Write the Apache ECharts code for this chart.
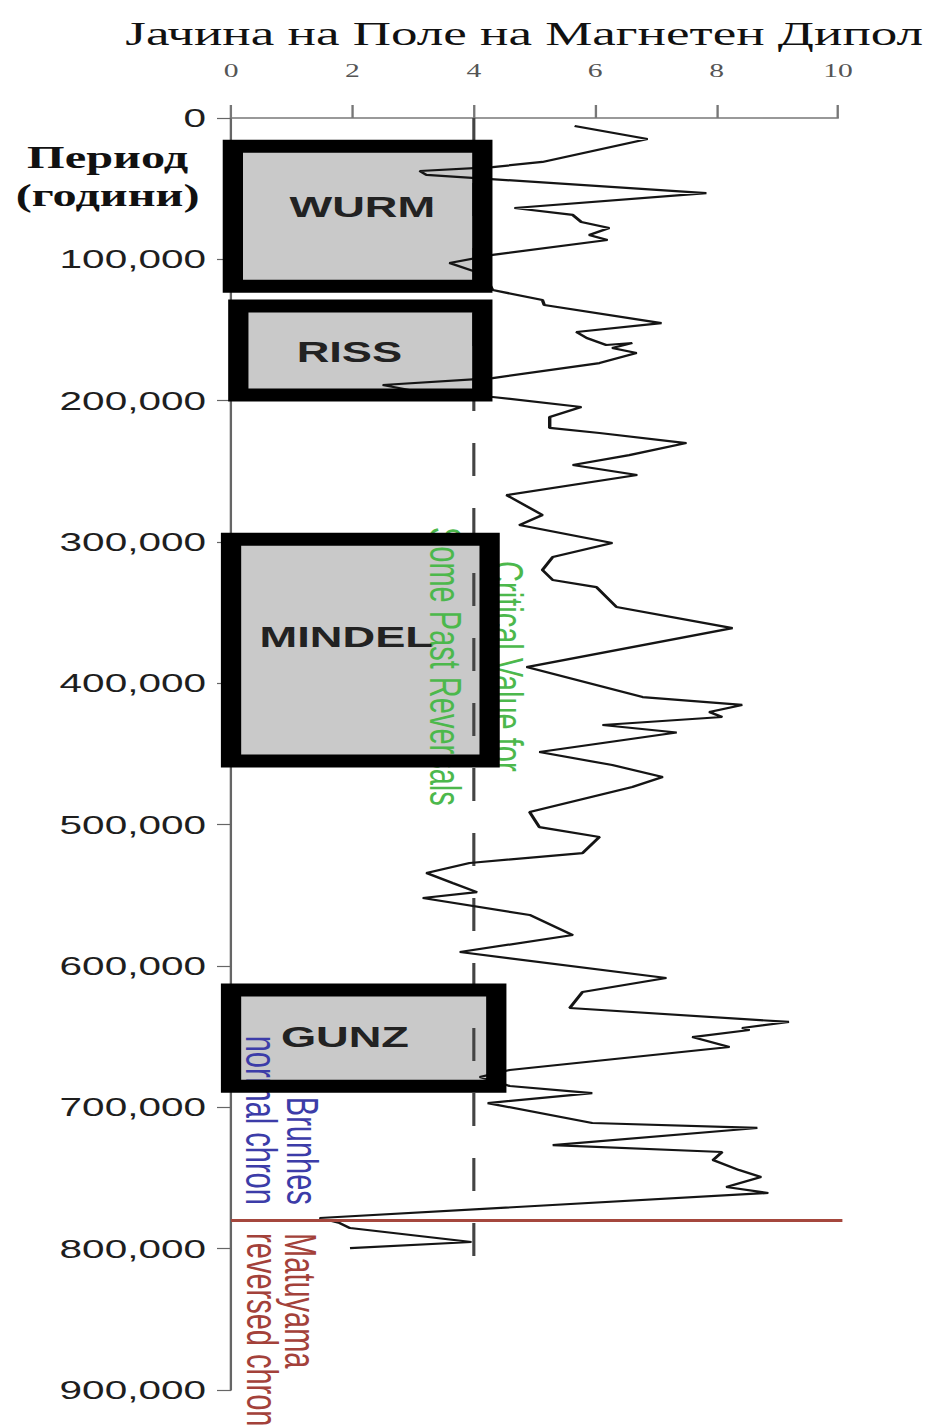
<!DOCTYPE html>
<html><head><meta charset="utf-8">
<script src="https://cdn.jsdelivr.net/npm/echarts@6/dist/echarts.min.js"></script>
<style>
html,body{margin:0;padding:0;background:#fff;overflow:hidden;width:936px;height:1427px}
#chart{width:600px;height:1427px;transform:scaleX(1.56);transform-origin:0 0}
</style></head><body><div id="chart"></div>
<script>
// ---------------- data ----------------
const titleText = 'Јачина на Поле на Магнетен Дипол';
const yAxisTitle = 'Период\n(години)';
const xTickLabels = ['0', '2', '4', '6', '8', '10'];
const yTickLabels = ['0', '100,000', '200,000', '300,000', '400,000', '500,000', '600,000', '700,000', '800,000', '900,000'];

// dipole field strength (top axis) against age in years (left axis), in drawing order
const dipoleStrength = [
  5.66, 6.86, 5.13, 4.31, 3.11, 3.22, 7.83, 4.67, 5.63, 5.77, 6.23, 5.90, 6.20, 4.31, 3.60, 4.18,
  4.31, 5.13, 5.16, 7.09, 5.69, 5.86, 6.18, 6.61, 6.28, 6.68, 6.07, 4.31, 2.50, 3.20, 4.31,
  5.77, 5.25, 5.25, 6.07, 7.50, 6.56, 5.63, 6.69, 4.54, 5.13, 4.75, 6.28, 5.30, 5.13, 5.30,
  6.02, 6.35, 8.26, 4.87, 6.78, 8.42, 7.88, 8.09, 6.12, 7.34, 5.08, 6.28, 7.11, 6.61, 4.92,
  5.08, 6.07, 5.79, 3.93, 3.22, 3.65, 4.05, 3.16, 4.92, 5.63, 3.77, 7.17, 5.79, 5.58, 9.19,
  8.42, 8.54, 7.60, 8.21, 4.59, 4.10, 4.45, 4.59, 5.95, 4.23, 5.95, 8.67, 5.30, 8.09, 7.94,
  8.37, 8.73, 8.16, 8.85, 1.46, 1.79, 1.96, 3.96, 1.96
];
const dipoleAge = [
  5700, 14900, 31100, 34700, 37500, 40300, 53100, 63700, 68600, 73600, 77800, 82800, 86300, 96900, 102600, 111000,
  121700, 128800, 132300, 145100, 151400, 155700, 160600, 159200, 162700, 166300, 173400, 184000, 188900, 194600, 197400,
  204500, 211600, 219300, 222900, 230000, 238500, 245500, 252600, 266800, 280900, 288000, 300700, 310600, 319800, 326900,
  331900, 346000, 360900, 388500, 409700, 415300, 420300, 423800, 429500, 434800, 448600, 457800, 466300, 473400, 491100,
  501700, 508700, 520100, 527100, 534200, 541300, 547700, 551900, 563900, 578100, 590100, 608500, 618400, 629700, 639600,
  643900, 645300, 650300, 657300, 673600, 678600, 683000, 684900, 689900, 697000, 711100, 714600, 726700, 731600, 737300,
  744400, 749300, 756400, 760600, 778300, 781900, 785400, 795300, 799600
];

// glacial periods (boxes)
const glacialNames = ['WURM', 'RISS', 'MINDEL', 'GUNZ'];
const glacialStart = [20000, 133000, 298000, 617000];
const glacialEnd = [119000, 196000, 455000, 685000];
const glacialLow = [0.03, 0.12, 0, 0];
const glacialHigh = [4.14, 4.14, 4.26, 4.37];

const criticalValue = 4;
const criticalSpan = [0, 808000];
const reversalAge = 780000;
const reversalSpan = [0, 10.35];

const annotationTexts = ['Critical Value for\nSome Past Reversals', 'Brunhes\nnormal chron', 'Matuyama\nreversed chron'];

// ---------------- styling / layout ----------------
const boxLabelOffsets = [[3, -9], [-7, 2], [-9, -13], [-12, -1]];
const annotationStyle = [
  {at: [4.04, 388000], color: '#4cb84c', align: 'center', lineHeight: 40},
  {at: [0.84, 769000], color: '#3c3ca8', align: 'right', lineHeight: 26},
  {at: [0.83, 789000], color: '#a3413a', align: 'left', lineHeight: 24}
];

const chart = echarts.init(document.getElementById('chart'), null, {renderer: 'svg'});

const boxData = glacialNames.map((n, i) => [glacialLow[i], glacialHigh[i], glacialStart[i], glacialEnd[i], i]);

function rectOf(api) {
  const p0 = api.coord([api.value(0), api.value(2)]);
  const p1 = api.coord([api.value(1), api.value(3)]);
  return {x: p0[0], y: p0[1], width: p1[0] - p0[0], height: p1[1] - p0[1]};
}

const option = {
  backgroundColor: '#fff',
  animation: false,
  title: {
    text: titleText, left: 331, top: 12, textAlign: 'center',
    textStyle: {fontFamily: 'Liberation Serif', fontSize: 34, fontWeight: 'normal', color: '#111'}
  },
  graphic: [{
    type: 'text', x: 69, y: 177,
    style: {text: yAxisTitle, align: 'center', verticalAlign: 'middle',
      font: 'bold 31px "Liberation Serif"', lineHeight: 38, fill: '#111'}
  }],
  grid: {left: 148.1, top: 118, width: 389.1, height: 1272},
  xAxis: {
    type: 'value', position: 'top', min: 0, max: 10, interval: 2, offset: 11,
    axisLine: {show: true, lineStyle: {color: '#777', width: 1.5}},
    axisTick: {show: true, length: 13, lineStyle: {color: '#777', width: 1.5}},
    axisLabel: {margin: 27, fontSize: 19, fontFamily: 'Liberation Serif', color: '#555',
      formatter: v => xTickLabels[Math.round(v / 2)]},
    splitLine: {show: false}
  },
  yAxis: {
    type: 'value', inverse: true, min: 0, max: 900000, interval: 100000,
    axisLine: {show: true, lineStyle: {color: '#666', width: 1.5}},
    axisTick: {show: true, length: 9, lineStyle: {color: '#666', width: 1.2}},
    axisLabel: {margin: 16, fontSize: 26, fontFamily: 'Liberation Sans', color: '#1e1e1e',
      formatter: v => yTickLabels[Math.round(v / 100000)]},
    splitLine: {show: false}
  },
  series: [
    { // box fills
      type: 'custom', z: 1, clip: false, silent: true,
      data: boxData,
      renderItem: (params, api) => ({type: 'rect', shape: rectOf(api), style: {fill: '#c9c9c9'}})
    },
    { // annotations (rotated texts)
      type: 'custom', z: 2, clip: false, silent: true,
      data: annotationStyle.map((s, i) => [s.at[0], s.at[1], i]),
      renderItem: (params, api) => {
        const i = api.value(2);
        const s = annotationStyle[i];
        const p = api.coord([api.value(0), api.value(1)]);
        return {
          type: 'text', x: p[0], y: p[1], rotation: -Math.PI / 2,
          style: {text: annotationTexts[i], align: s.align, verticalAlign: 'middle',
            font: '29px "Liberation Sans"', lineHeight: s.lineHeight, fill: s.color}
        };
      }
    },
    { // critical value dashed line
      type: 'line', z: 2, clip: false, silent: true, showSymbol: false,
      data: criticalSpan.map(a => [criticalValue, a]),
      lineStyle: {color: '#444', width: 2, type: [33, 32]}
    },
    { // dipole strength curve
      type: 'line', z: 3, clip: false, silent: true, showSymbol: false,
      data: dipoleAge.map((a, i) => [dipoleStrength[i], a]),
      lineStyle: {color: '#151515', width: 2.2}
    },
    { // Brunhes–Matuyama boundary
      type: 'line', z: 3, clip: false, silent: true, showSymbol: false,
      data: reversalSpan.map(v => [v, reversalAge]),
      lineStyle: {color: '#a5473d', width: 3}
    },
    { // box borders + labels
      type: 'custom', z: 4, clip: false, silent: true,
      data: boxData,
      renderItem: (params, api) => {
        const r = rectOf(api);
        const i = api.value(4);
        const off = boxLabelOffsets[i];
        return {
          type: 'group',
          children: [
            {type: 'rect', shape: r, style: {fill: 'none', stroke: '#000', lineWidth: 13}},
            {type: 'text', x: r.x + r.width / 2 + off[0], y: r.y + r.height / 2 + off[1],
              style: {text: glacialNames[i], align: 'center', verticalAlign: 'middle',
                font: 'bold 29px "Liberation Sans"', fill: '#222'}}
          ]
        };
      }
    }
  ]
};
chart.setOption(option);
</script></body></html>
